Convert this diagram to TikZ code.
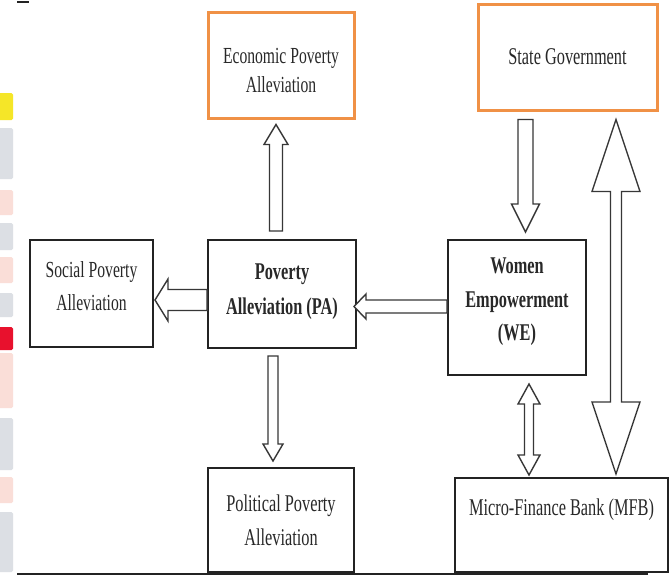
\documentclass[tikz,border=0pt]{standalone}
\usepackage{fontspec}
\setmainfont[FakeStretch=0.68]{Liberation Serif}
\usetikzlibrary{calc}
\definecolor{boxline}{RGB}{35,35,35}
\definecolor{orng}{RGB}{240,145,70}
\definecolor{sgray}{RGB}{220,223,228}
\definecolor{spink}{RGB}{250,222,216}
\definecolor{syellow}{RGB}{245,230,40}
\definecolor{sred}{RGB}{232,17,45}
\definecolor{arrowcol}{RGB}{55,55,55}
\definecolor{txtcol}{RGB}{40,40,40}
\tikzset{
  bbox/.style={draw=boxline, line width=2pt, rectangle, inner sep=0pt, fill=white},
  obox/.style={draw=orng, line width=3pt, rectangle, inner sep=0pt, fill=white},
  btext/.style={align=center, text=txtcol, inner sep=0pt, font=\fontsize{24}{34}\selectfont},
  barrow/.style={draw=arrowcol, line width=1.4pt, fill=white, line join=miter},
  strip/.style={rounded corners=1.5pt}
}
\newcommand{\blockarrow}[5]{%
  \draw[barrow] let \p1=(#1), \p2=(#2), \n1={atan2(\y2-\y1,\x2-\x1)}, \n2={veclen(\x2-\x1,\y2-\y1)} in
  [shift={(\p1)}, rotate=\n1]
  (0pt,{-#3*1pt}) -- ({\n2*1pt-#5*1pt},{-#3*1pt}) -- ({\n2*1pt-#5*1pt},{-#4*1pt}) -- ({\n2*1pt},0pt)
  -- ({\n2*1pt-#5*1pt},{#4*1pt}) -- ({\n2*1pt-#5*1pt},{#3*1pt}) -- (0pt,{#3*1pt}) -- cycle;}
\newcommand{\dblockarrow}[5]{%
  \draw[barrow] let \p1=(#1), \p2=(#2), \n1={atan2(\y2-\y1,\x2-\x1)}, \n2={veclen(\x2-\x1,\y2-\y1)} in
  [shift={(\p1)}, rotate=\n1]
  (0pt,0pt) -- ({#5*1pt},{#4*1pt}) -- ({#5*1pt},{#3*1pt}) -- ({\n2*1pt-#5*1pt},{#3*1pt})
  -- ({\n2*1pt-#5*1pt},{#4*1pt}) -- ({\n2*1pt},0pt) -- ({\n2*1pt-#5*1pt},{-#4*1pt})
  -- ({\n2*1pt-#5*1pt},{-#3*1pt}) -- ({#5*1pt},{-#3*1pt}) -- ({#5*1pt},{-#4*1pt}) -- cycle;}
\begin{document}
\begin{tikzpicture}[x=1pt,y=-1pt]
\useasboundingbox (0,0) rectangle (670,576);
\fill[white] (0,0) rectangle (670,576);
% left strip
\fill[syellow,strip] (-3,93) rectangle (13,120);
\fill[sgray,strip] (-3,128) rectangle (13,179);
\fill[spink,strip] (-3,190) rectangle (13,215);
\fill[sgray,strip] (-3,223) rectangle (13,250);
\fill[spink,strip] (-3,257) rectangle (13,283);
\fill[sgray,strip] (-3,293) rectangle (13,317);
\fill[sred,strip] (-3,327) rectangle (13,350);
\fill[spink,strip] (-3,353) rectangle (13,408);
\fill[sgray,strip] (-3,418) rectangle (13,470);
\fill[spink,strip] (-3,477) rectangle (13,503);
\fill[sgray,strip] (-3,512) rectangle (13,572);
% rules
\draw[boxline, line width=1.5pt] (17,2) -- (29,2);
\draw[boxline, line width=2pt] (17,574) -- (648,574);
% boxes
\node[obox, minimum width=146pt, minimum height=106pt] (eco) at (281,65) {};
\node[obox, minimum width=179pt, minimum height=106pt] (sg) at (567.5,57) {};
\node[bbox, minimum width=123pt, minimum height=107pt] (soc) at (91.5,293.5) {};
\node[bbox, minimum width=148pt, minimum height=108pt] (pa) at (282,294) {};
\node[bbox, minimum width=138pt, minimum height=135pt] (we) at (517,307.5) {};
\node[bbox, minimum width=213pt, minimum height=94pt] (mfb) at (561.5,525) {};
\node[bbox, minimum width=146pt, minimum height=104pt] (pol) at (281,520) {};
% texts
\node[btext, font=\fontsize{23}{29}\selectfont] (eco-t) at (281,70) {Economic Poverty\\Alleviation};
\node[btext] (sg-t) at (567.5,57) {State Government};
\node[btext, font=\fontsize{23}{33}\selectfont] (soc-t) at (91.5,286) {Social Poverty\\Alleviation};
\node[btext, font=\fontsize{24}{35}\selectfont\bfseries] (pa-t) at (282,292) {Poverty\\Alleviation (PA)};
\node[btext, font=\fontsize{24}{33.5}\selectfont\bfseries] (we-t) at (517,302) {Women\\Empowerment\\(WE)};
\node[btext] (pol-t) at (281,520) {Political Poverty\\Alleviation};
\node[btext] (mfb-t) at (561.5,510) {Micro-Finance Bank (MFB)};
% connector end points
\coordinate (a1s) at ($(pa.north)+(-6,-8)$);
\coordinate (a1e) at ($(eco.south)+(-5,5)$);
\coordinate (a2s) at ($(pa.south)+(-9,7)$);
\coordinate (a2e) at ($(pol.north)+(-8,-6)$);
\coordinate (a3s) at ($(we.west)+(0,-1)$);
\coordinate (a3e) at ($(pa.east)+(-3,12.5)$);
\coordinate (a4s) at ($(pa.west)+(0,6)$);
\coordinate (a4e) at ($(soc.east)+(1,6.5)$);
\coordinate (a5s) at ($(sg.south)+(-42,8)$);
\coordinate (a5e) at ($(we.north)+(8.5,-7)$);
\coordinate (a6s) at ($(sg.south)+(48.5,8)$);
\coordinate (a6e) at ($(mfb.north)+(54.5,-3)$);
\coordinate (a7s) at ($(we.south)+(12,8)$);
\coordinate (a7e) at ($(mfb.north)+(-32.5,-2)$);
% connectors
\blockarrow{a1s}{a1e}{6.5}{12}{20}
\blockarrow{a2s}{a2e}{5}{10}{17}
\blockarrow{a3s}{a3e}{6.5}{12.5}{12}
\blockarrow{a4s}{a4e}{10.5}{21}{13}
\blockarrow{a5s}{a5e}{7.5}{14}{28}
\dblockarrow{a6s}{a6e}{5.5}{24}{72}
\dblockarrow{a7s}{a7e}{4.5}{11}{20}
\end{tikzpicture}
\end{document}
